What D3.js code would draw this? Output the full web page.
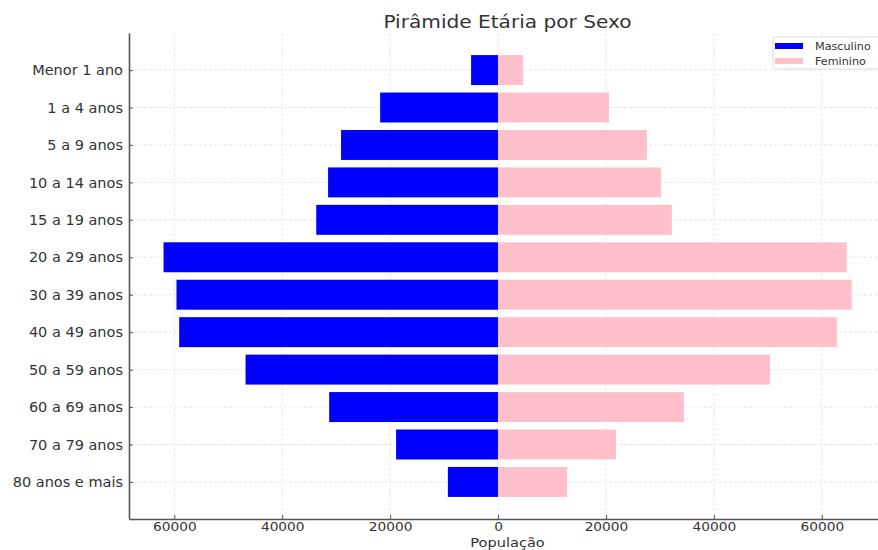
<!DOCTYPE html>
<html>
<head>
<meta charset="utf-8">
<script src="https://cdn.jsdelivr.net/npm/d3@7"></script>
<style>
  body { margin: 0; background: #fff; }
  svg { font-family: "DejaVu Sans", sans-serif; }
</style>
</head>
<body>
<div id="chart"></div>
<script>
// faixas etárias, de cima para baixo
var faixas = ["Menor 1 ano", "1 a 4 anos", "5 a 9 anos", "10 a 14 anos", "15 a 19 anos",
  "20 a 29 anos", "30 a 39 anos", "40 a 49 anos", "50 a 59 anos", "60 a 69 anos",
  "70 a 79 anos", "80 anos e mais"];
// população masculina (desenhada para a esquerda)
var masculino = [5000, 21850, 29100, 31500, 33700, 62000, 59600, 59100, 46800, 31300, 18900, 9300];
// população feminina
var feminino = [4650, 20550, 27600, 30200, 32200, 64600, 65550, 62800, 50400, 34450, 21850, 12800];
var xTicks = [-60000, -40000, -20000, 0, 20000, 40000, 60000];

var width = 878, height = 550;
var margin = {top: 33, left: 129, bottom: 31};
var plotRight = 886;
var plotBottom = height - margin.bottom;

var svg = d3.select("#chart").append("svg").attr("width", width).attr("height", height);

var x = d3.scaleLinear().domain([-68400, 71900]).range([margin.left, plotRight]);
// posições 0..11 com margem como no matplotlib
var y = d3.scaleLinear().domain([-0.99, 11.99]).range([margin.top, plotBottom]);
var barH = y(0.8) - y(0);

var g = svg.append("g");

// grade tracejada
g.selectAll(".gx").data(xTicks).enter().append("line")
  .attr("x1", function (d) { return x(d); }).attr("x2", function (d) { return x(d); })
  .attr("y1", margin.top).attr("y2", plotBottom)
  .attr("stroke", "#e0e0e0").attr("stroke-width", 0.8).attr("stroke-dasharray", "3,2");
g.selectAll(".gy").data(faixas).enter().append("line")
  .attr("x1", margin.left).attr("x2", plotRight)
  .attr("y1", function (d, i) { return y(i); }).attr("y2", function (d, i) { return y(i); })
  .attr("stroke", "#e0e0e0").attr("stroke-width", 0.8).attr("stroke-dasharray", "3,2");

// barras
g.selectAll(".m").data(masculino).enter().append("rect")
  .attr("x", function (d) { return x(-d); })
  .attr("width", function (d) { return x(0) - x(-d); })
  .attr("y", function (d, i) { return y(i) - barH / 2; })
  .attr("height", barH)
  .attr("fill", "#0000ff");
g.selectAll(".f").data(feminino).enter().append("rect")
  .attr("x", x(0))
  .attr("width", function (d) { return x(d) - x(0); })
  .attr("y", function (d, i) { return y(i) - barH / 2; })
  .attr("height", barH)
  .attr("fill", "#ffc0cb");

// eixos
var axisColor = "#555";
var textColor = "#333";
var xAxis = g.append("g").attr("transform", "translate(0," + plotBottom + ")")
  .call(d3.axisBottom(x).tickValues(xTicks).tickSizeInner(-4).tickSizeOuter(0)
    .tickPadding(5).tickFormat(function (d) { return Math.abs(d); }));
var yAxis = g.append("g").attr("transform", "translate(" + margin.left + ",0)")
  .call(d3.axisLeft(y).tickValues(d3.range(faixas.length)).tickSizeInner(-4).tickSizeOuter(0)
    .tickPadding(6).tickFormat(function (d) { return faixas[d]; }));
[xAxis, yAxis].forEach(function (a) {
  a.select(".domain").attr("stroke", axisColor).attr("stroke-width", 1.6);
  a.selectAll(".tick line").attr("stroke", axisColor);
  a.selectAll(".tick text").attr("fill", textColor)
    .attr("font-family", "DejaVu Sans, sans-serif");
});
// o texto da imagem original é um pouco esticado na horizontal
xAxis.selectAll(".tick text").attr("font-size", "12.5px").attr("dy", 0).attr("y", 12)
  .attr("transform", "scale(1.1,1)");
yAxis.selectAll(".tick text").attr("font-size", "14.5px");

// título e rótulo
var cx = (margin.left + plotRight) / 2;
svg.append("text").attr("transform", "translate(" + cx + ",28) scale(1.15,1)")
  .attr("text-anchor", "middle")
  .attr("font-size", "17.5px").attr("fill", textColor).text("Pirâmide Etária por Sexo");
svg.append("text").attr("transform", "translate(" + cx + ",547) scale(1.12,1)")
  .attr("text-anchor", "middle")
  .attr("font-size", "13px").attr("fill", textColor).text("População");

// legenda
var series = [{nome: "Masculino", cor: "#0000ff"}, {nome: "Feminino", cor: "#ffc0cb"}];
var lg = svg.append("g").attr("transform", "translate(773,37)");
lg.append("rect").attr("width", 112).attr("height", 32).attr("rx", 2)
  .attr("fill", "#fff").attr("fill-opacity", 0.85).attr("stroke", "#ddd");
var item = lg.selectAll(".item").data(series).enter().append("g")
  .attr("transform", function (d, i) { return "translate(2," + (6 + i * 15) + ")"; });
item.append("rect").attr("width", 28).attr("height", 6).attr("fill", function (d) { return d.cor; });
item.append("text").attr("x", 40).attr("y", 7).attr("font-size", "11.2px").attr("fill", textColor)
  .text(function (d) { return d.nome; });
</script>
</body>
</html>
